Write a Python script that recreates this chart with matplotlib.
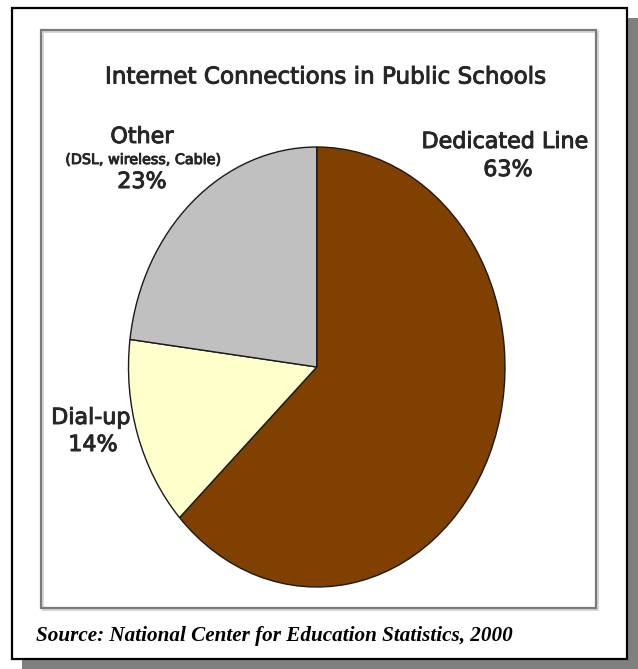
import matplotlib
matplotlib.use("Agg")
import matplotlib.pyplot as plt
import matplotlib.patheffects as pe
from matplotlib.patches import Rectangle

W, H = 638, 669

labels = ["Dedicated Line", "Dial-up", "Other"]
shares = [63, 14, 23]
colors = ["#804000", "#FFFFCC", "#C0C0C0"]

fig = plt.figure(figsize=(W / 100, H / 100), dpi=100)
fig.patch.set_facecolor("white")

TXT = "#262626"
heavy = [pe.withStroke(linewidth=0.7, foreground=TXT)]


def fx(x):
    return x / W


def fy(y):
    return 1 - y / H


def frame(x0, y0, x1, y1, fc, ec, lw, z):
    fig.patches.append(Rectangle((fx(x0), fy(y1)), fx(x1) - fx(x0), fy(y0) - fy(y1),
                                 transform=fig.transFigure, fc=fc, ec=ec, lw=lw, zorder=z))


def label(x, y, s, fs=16, c=TXT, **kw):
    fig.text(fx(x), fy(y), s, fontsize=fs, color=c, ha="center", va="center",
             family="DejaVu Sans", zorder=10, path_effects=heavy, **kw)


# drop shadow, outer card and inner chart frame
frame(22, 18, 638, 669, "#808080", "none", 0, 0)
frame(12, 8, 627, 659, "white", "black", 1.6, 1)
frame(43, 32, 598, 610, "none", "#d8d8d8", 1.5, 2)
frame(41, 30, 596, 608, "none", "#7a7a7a", 1.6, 3)

# pie drawn in a box that is taller than wide
ax = fig.add_axes([fx(128.5), fy(587), fx(505) - fx(128.5), fy(147) - fy(587)])
ax.set_zorder(5)
ax.patch.set_visible(False)
ax.pie(shares, colors=colors, startangle=90, counterclock=False,
       wedgeprops=dict(edgecolor="#1a1a1a", linewidth=1.0))
ax.set_aspect("auto")
ax.set_xlim(-1, 1)
ax.set_ylim(-1, 1)
ax.axis("off")

label(325, 77, "Internet Connections in Public Schools", fs=16.6)

label(142, 137, "Other", fs=16)
label(143, 160, "(DSL, wireless, Cable)", fs=10.3)
label(142, 182, "23%", fs=16)

label(505, 142, "Dedicated Line", fs=16)
label(508, 170, "63%", fs=16)

label(91, 418, "Dial-up", fs=16)
label(93, 445, "14%", fs=16)

fig.text(fx(36), fy(636), "Source: National Center for Education Statistics, 2000",
         fontsize=15.2, fontweight="bold", fontstyle="italic", family="Liberation Serif",
         color="black", ha="left", va="center", zorder=10)

fig.savefig("out.png", dpi=100, facecolor=fig.get_facecolor())
